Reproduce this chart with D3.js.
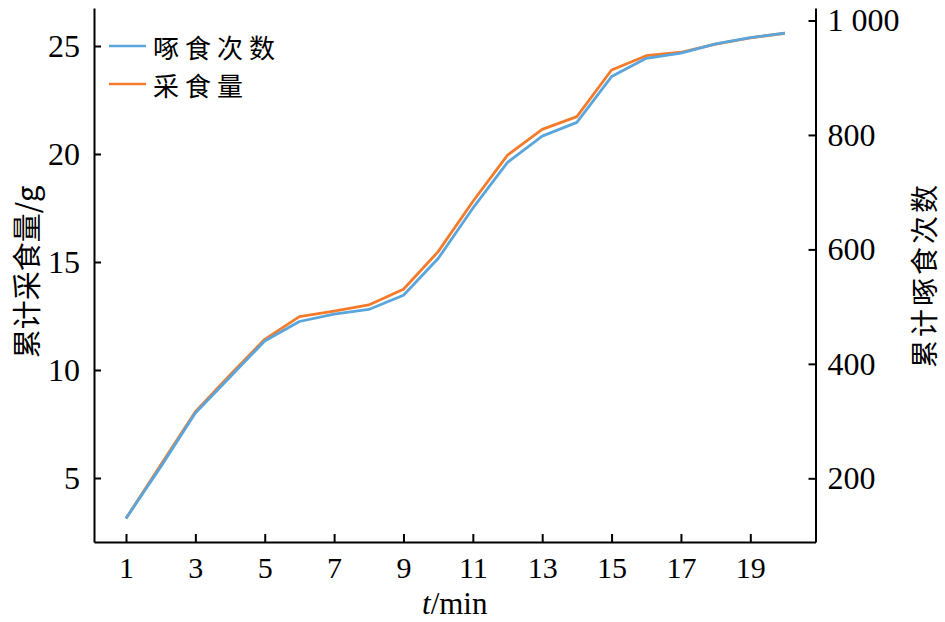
<!DOCTYPE html>
<html><head><meta charset="utf-8">
<script src="https://cdn.jsdelivr.net/npm/d3@7/dist/d3.min.js"></script>
<style>
html,body{margin:0;padding:0;background:#fff;}
svg{display:block;}
.tick text{font-family:"Liberation Serif","Times New Roman",serif;font-size:32px;fill:#000;}
.xaxis .tick text{font-size:30px;}
</style></head>
<body><svg id="chart" width="945" height="622"></svg>
<script>
// ---- data ----
const minutes = [1,2,3,4,5,6,7,8,9,10,11,12,13,14,15,16,17,18,19,20];
const intake = [3.13,5.60,8.07,9.77,11.42,12.47,12.73,13.01,13.74,15.48,17.80,19.95,21.14,21.73,23.89,24.55,24.71,25.09,25.38,25.59];
const pecks = [130,220,314,377,440,474,487,495,520,584,672,752,798,822,902,934,943,959,970,978];
const xTicks = [1,3,5,7,9,11,13,15,17,19];
const leftTicks = [5,10,15,20,25];
const rightTicks = [200,400,600,800,1000];
const rightTickLabels = ["200","400","600","800","1 000"];
const seriesNames = ["啄食次数","采食量"];
const seriesColors = ["#5aa6dc","#f47b2c"];
const xTitle = "/min", xTitleItalic = "t";
const leftTitle = "累计采食量/g";
const rightTitle = "累计啄食次数";

// ---- layout ----
const svg = d3.select("#chart");
const plotLeft = 94, plotRight = 815.5, plotTop = 8, plotBottom = 542;

const x = d3.scaleLinear().domain([1,19]).range([126,750.3]);
x.domain([x.invert(plotLeft), x.invert(plotRight)]).range([plotLeft, plotRight]);
const yL = d3.scaleLinear().domain([5,25]).range([478,46]);
yL.domain([yL.invert(plotBottom), yL.invert(plotTop)]).range([plotBottom, plotTop]);
const yR = d3.scaleLinear().domain([200,1000]).range([478.3,20.5]);
yR.domain([yR.invert(plotBottom), yR.invert(plotTop)]).range([plotBottom, plotTop]);

function styleAxis(g){
  g.selectAll("path.domain").attr("stroke","#000").attr("stroke-width",2);
  g.selectAll(".tick line").attr("stroke","#000").attr("stroke-width",2);
}

svg.append("g").attr("transform",`translate(${plotLeft},0)`)
  .call(d3.axisLeft(yL).tickValues(leftTicks).tickSizeInner(-7).tickSizeOuter(0).tickPadding(14))
  .call(styleAxis);
svg.append("g").attr("transform",`translate(${plotRight},0)`)
  .call(d3.axisRight(yR).tickValues(rightTicks).tickFormat((d,i)=>rightTickLabels[i]).tickSizeInner(-7).tickSizeOuter(0).tickPadding(12))
  .call(styleAxis);
svg.append("g").attr("class","xaxis").attr("transform",`translate(0,${plotBottom})`)
  .call(d3.axisBottom(x).tickValues(xTicks).tickSizeInner(-8).tickSizeOuter(0).tickPadding(15))
  .call(styleAxis);

// titles
const xt = svg.append("text").attr("x",(plotLeft+plotRight)/2).attr("y",614)
  .attr("text-anchor","middle").attr("font-family","'Liberation Serif','Times New Roman',serif")
  .attr("font-size",31).attr("fill","#000");
xt.append("tspan").attr("font-style","italic").text(xTitleItalic);
xt.append("tspan").text(xTitle);

svg.append("text").attr("transform","translate(25,272) rotate(-90)")
  .attr("text-anchor","middle").attr("dominant-baseline","central")
  .attr("font-family","'Noto Sans CJK SC',sans-serif").attr("font-size",29).attr("fill","#000")
  .text(leftTitle);
svg.append("text").attr("transform","translate(923,275) rotate(-90)")
  .attr("text-anchor","middle").attr("dominant-baseline","central")
  .attr("font-family","'Noto Sans CJK SC',sans-serif").attr("font-size",28)
  .attr("letter-spacing",3).attr("fill","#000")
  .text(rightTitle);

// lines
const lineL = d3.line().x((d,i)=>x(minutes[i])).y(d=>yL(d));
const lineR = d3.line().x((d,i)=>x(minutes[i])).y(d=>yR(d));
svg.append("path").datum(intake).attr("d",lineL).attr("fill","none")
  .attr("stroke",seriesColors[1]).attr("stroke-width",2.8).attr("stroke-linejoin","round");
svg.append("path").datum(pecks).attr("d",lineR).attr("fill","none")
  .attr("stroke",seriesColors[0]).attr("stroke-width",2.8).attr("stroke-linejoin","round");

// legend
const legend = svg.append("g");
seriesNames.forEach((n,i)=>{
  const yy = 46 + i*38;
  legend.append("line").attr("x1",109).attr("x2",146).attr("y1",yy).attr("y2",yy)
    .attr("stroke",seriesColors[i]).attr("stroke-width",2.5);
  legend.append("text").attr("x",153).attr("y",yy).attr("dominant-baseline","central")
    .attr("font-family","'Noto Sans CJK SC',sans-serif").attr("font-size",26)
    .attr("letter-spacing",6).attr("fill","#000")
    .text(n);
});
</script></body></html>
